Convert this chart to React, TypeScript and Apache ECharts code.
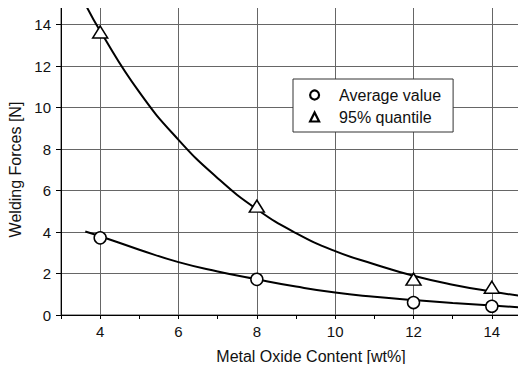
import React, { useEffect, useRef } from "react";
import * as echarts from "echarts";

// Measured points
const contentX = [4, 8, 12, 14];
const averageValue = [3.72, 1.72, 0.6, 0.42];
const quantile95 = [13.65, 5.25, 1.73, 1.34];

// Fitted trend curves
const fitX = [3.62, 4, 5, 6, 7, 8, 9, 10, 11, 12, 13, 14, 15];
const averageFit = [4.03, 3.8, 3.15, 2.55, 2.1, 1.72, 1.37, 1.08, 0.88, 0.72, 0.58, 0.46, 0.33];
const quantileFit = [15.0, 13.7, 10.75, 8.45, 6.6, 5.1, 3.95, 3.08, 2.45, 1.89, 1.46, 1.13, 0.85];

const FONT = "'Liberation Sans', Arial, Helvetica, sans-serif";

const pairs = (xs: number[], ys: number[]) => xs.map((x, i) => [x, ys[i]]);

export default function App() {
  const ref = useRef<HTMLDivElement>(null);

  useEffect(() => {
    if (!ref.current) return;
    const chart = echarts.init(ref.current, undefined, { renderer: "svg" });
    chart.setOption({
      animation: false,
      backgroundColor: "#ffffff",
      textStyle: { fontFamily: FONT },
      grid: {
        left: 61,
        top: 4,
        width: 470,
        bottom: 57,
        outerBoundsMode: "none",
        containLabel: false,
        show: true,
        borderColor: "#444",
        borderWidth: 1,
        backgroundColor: "transparent",
      },
      legend: {
        data: [
          { name: "Average value", icon: "circle" },
          { name: "95% quantile", icon: "triangle" },
        ],
        orient: "vertical",
        left: 293,
        top: 79,
        itemWidth: 9,
        itemHeight: 9,
        itemGap: 6,
        padding: [8, 12, 7, 16],
        backgroundColor: "#ffffff",
        borderColor: "#333",
        borderWidth: 1,
        borderRadius: 0,
        itemStyle: { color: "#ffffff", borderColor: "#000", borderWidth: 2.2 },
        textStyle: {
          fontSize: 16,
          color: "#111",
          fontFamily: FONT,
          lineHeight: 16,
          padding: [0, 0, 0, 15],
        },
      },
      xAxis: [
        {
          type: "value",
          min: 3,
          max: 15,
          name: "Metal Oxide Content [wt%]",
          nameLocation: "middle",
          nameGap: 33,
          nameTextStyle: { fontSize: 16, color: "#111", padding: [0, 0, 0, 30], fontFamily: FONT },
          axisLine: { show: true, lineStyle: { color: "#000", width: 1 } },
          axisTick: { show: false },
          axisLabel: {
            fontSize: 15,
            color: "#111",
            margin: 9,
            hideOverlap: false,
            formatter: (v: number) => (v % 2 === 0 && v > 3 && v < 15 ? String(v) : ""),
          },
          splitLine: { show: true, lineStyle: { color: "#666", width: 1 } },
        },
        {
          // integer tick marks along the bottom edge
          type: "value",
          min: 3,
          max: 15,
          interval: 1,
          position: "bottom",
          axisLine: { show: false },
          axisTick: { show: true, inside: false, length: 4, lineStyle: { color: "#000" } },
          axisLabel: { show: false },
          splitLine: { show: false },
        },
      ],
      yAxis: {
        type: "value",
        min: 0,
        max: 15,
        interval: 2,
        name: "Welding Forces [N]",
        nameLocation: "middle",
        nameGap: 36,
        nameTextStyle: { fontSize: 16, color: "#111", padding: [0, 20, 0, 0], fontFamily: FONT },
        axisLine: { show: true, lineStyle: { color: "#000", width: 1 } },
        axisTick: { show: true, length: 5, lineStyle: { color: "#000" } },
        axisLabel: {
          fontSize: 15,
          color: "#111",
          margin: 10,
          hideOverlap: false,
          formatter: (v: number) => (v <= 14 && v % 2 === 0 ? String(v) : ""),
        },
        splitLine: { show: true, lineStyle: { color: "#666", width: 1 } },
      },
      series: [
        {
          name: "averageFit",
          type: "line",
          data: pairs(fitX, averageFit),
          smooth: true,
          symbol: "none",
          lineStyle: { color: "#000", width: 2 },
          z: 3,
        },
        {
          name: "quantileFit",
          type: "line",
          data: pairs(fitX, quantileFit),
          smooth: true,
          symbol: "none",
          lineStyle: { color: "#000", width: 2 },
          z: 3,
        },
        {
          name: "Average value",
          type: "scatter",
          data: pairs(contentX, averageValue),
          symbol: "circle",
          symbolSize: 12,
          itemStyle: { color: "#ffffff", borderColor: "#000", borderWidth: 1.5, opacity: 1 },
          z: 5,
        },
        {
          name: "95% quantile",
          type: "scatter",
          data: pairs(contentX, quantile95),
          symbol: "triangle",
          symbolSize: [15, 12],
          itemStyle: { color: "#ffffff", borderColor: "#000", borderWidth: 1.5, opacity: 1 },
          z: 5,
        },
      ],
    });
    return () => chart.dispose();
  }, []);

  return <div ref={ref} style={{ width: 526, height: 372, margin: -8 }} />;
}
